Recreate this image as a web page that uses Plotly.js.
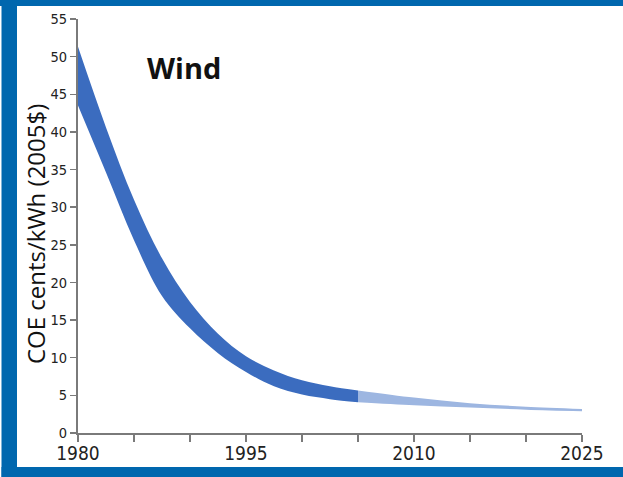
<!DOCTYPE html>
<html>
<head>
<meta charset="utf-8">
<script src="https://cdn.plot.ly/plotly-3.0.1.min.js"></script>
<style>
html,body{margin:0;padding:0;background:#fff;}
#chart{width:623px;height:477px;}
</style>
</head>
<body>
<div id="chart"></div>
<script>
// Historical range (dark band)
const darkYears = [1980, 1982.5, 1985, 1987.5, 1990, 1992.5, 1995, 1997.5, 2000, 2002.5, 2005];
const darkUpper = [51.3, 40.6, 31.0, 23.2, 17.4, 13.2, 10.2, 8.3, 7.0, 6.2, 5.65];
const darkLower = [43.5, 34.6, 25.6, 18.2, 13.9, 10.6, 8.1, 6.2, 5.1, 4.5, 4.1];
// Projected range (light band)
const lightYears = [2005, 2010, 2015, 2020, 2025];
const lightUpper = [5.65, 4.7, 3.95, 3.5, 3.2];
const lightLower = [4.1, 3.7, 3.4, 3.1, 2.9];
// Axis ticks
const xTickVals = [1980, 1985, 1990, 1995, 2000, 2005, 2010, 2015, 2020, 2025];
const xTickText = ['1980', '', '', '1995', '', '', '2010', '', '', '2025'];
const yTickVals = [0, 5, 10, 15, 20, 25, 30, 35, 40, 45, 50, 55];

const darkColor = '#3b6cbf';
const lightColor = '#9db6e1';
const frameColor = '#0067ae';
const axisColor = '#7a7a7a';
const narrow = '"Liberation Sans Narrow", "DejaVu Sans Condensed", "Roboto", sans-serif';

const band = (x, lo, hi, color) => [
  {x: x, y: lo, type: 'scatter', mode: 'lines', line: {width: 0, shape: 'spline', smoothing: 1}, hoverinfo: 'skip', showlegend: false},
  {x: x, y: hi, type: 'scatter', mode: 'lines', fill: 'tonexty', fillcolor: color, line: {width: 0, shape: 'spline', smoothing: 1}, hoverinfo: 'skip', showlegend: false}
];

const data = [
  ...band(darkYears, darkLower, darkUpper, darkColor),
  ...band(lightYears, lightLower, lightUpper, lightColor)
];

// plot area: left 78, right 582, top 19, bottom 433
const L = 78, R = 582, T = 19, B = 433;
const px = v => (v - L) / (R - L);
const py = v => (B - v) / (B - T);

const layout = {
  width: 623, height: 477,
  margin: {l: L, r: 623 - R, t: T, b: 477 - B, pad: 0},
  paper_bgcolor: '#ffffff', plot_bgcolor: '#ffffff',
  showlegend: false,
  xaxis: {
    range: [1980, 2025], tickmode: 'array', tickvals: xTickVals, ticktext: xTickText,
    showgrid: false, zeroline: false, showline: true, linecolor: axisColor, linewidth: 2,
    ticks: 'outside', ticklen: 7, tickwidth: 2, tickcolor: axisColor,
    tickfont: {family: narrow, size: 19, color: '#222'}, ticklabelstandoff: -5,
    fixedrange: true
  },
  yaxis: {
    range: [0, 55], tickmode: 'array', tickvals: yTickVals,
    showgrid: false, zeroline: false, showline: true, linecolor: axisColor, linewidth: 2,
    ticks: 'outside', ticklen: 6, tickwidth: 1.5, tickcolor: axisColor,
    tickfont: {family: narrow, size: 14.5, color: '#222'},
    automargin: false, fixedrange: true
  },
  annotations: [
    {text: '<b>Wind</b>', xref: 'paper', yref: 'paper', x: px(184), y: py(68), xanchor: 'center', yanchor: 'middle', showarrow: false,
     font: {family: '"Open Sans", sans-serif', size: 29, color: '#111'}},
    {text: 'COE cents/kWh (2005$)', xref: 'paper', yref: 'paper', x: px(35), y: py(234), xanchor: 'center', yanchor: 'middle', textangle: -90, showarrow: false,
     font: {family: '"Open Sans", sans-serif', size: 24, color: '#111'}}
  ],
  shapes: [
    {type: 'rect', xref: 'paper', yref: 'paper', x0: px(0), x1: px(623), y0: py(0), y1: py(6), fillcolor: frameColor, line: {width: 0}, layer: 'above'},
    {type: 'rect', xref: 'paper', yref: 'paper', x0: px(1.5), x1: px(17), y0: py(0), y1: py(477), fillcolor: frameColor, line: {width: 0}, layer: 'above'},
    {type: 'rect', xref: 'paper', yref: 'paper', x0: px(1.5), x1: px(623), y0: py(467), y1: py(477), fillcolor: frameColor, line: {width: 0}, layer: 'above'}
  ]
};

Plotly.newPlot('chart', data, layout, {staticPlot: true, displayModeBar: false});
</script>
</body>
</html>
